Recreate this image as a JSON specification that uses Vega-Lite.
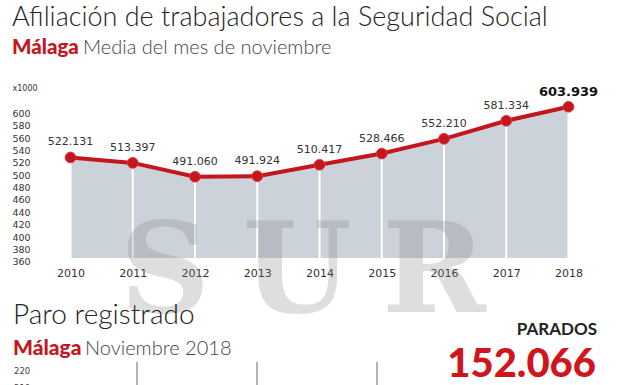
{
  "$schema": "https://vega.github.io/schema/vega-lite/v6.json",
  "width": 622,
  "height": 385,
  "autosize": {"type": "none"},
  "padding": 0,
  "background": "white",
  "config": {
    "view": {"stroke": null},
    "axis": {"labelOverlap": false, "grid": false, "domain": false, "ticks": false, "tickSize": 0, "labelPadding": 0, "labelFont": "DejaVu Sans", "labelColor": "#333", "labelFlush": false},
    "axisX": {"labelFontSize": 11, "labelBaseline": "middle"},
    "axisY": {"labelFontSize": 9.5, "labelAlign": "left", "labelOffset": 4}
  },
  "data": {"values": [
    {"year": 2010, "v": 522.131},
    {"year": 2011, "v": 513.397},
    {"year": 2012, "v": 491.060},
    {"year": 2013, "v": 491.924},
    {"year": 2014, "v": 510.417},
    {"year": 2015, "v": 528.466},
    {"year": 2016, "v": 552.210},
    {"year": 2017, "v": 581.334},
    {"year": 2018, "v": 603.939}
  ]},
  "layer": [
    {
      "mark": {"type": "area", "color": "#cbd2d9"},
      "encoding": {
        "x": {"field": "year", "type": "quantitative",
          "scale": {"domain": [2008.86747, 2018.85944], "nice": false, "zero": false},
          "axis": {"values": [2010, 2011, 2012, 2013, 2014, 2015, 2016, 2017, 2018], "tickCount": 30, "format": "d", "orient": "bottom", "offset": -112, "labelOverlap": false, "title": null}},
        "y": {"field": "v", "type": "quantitative",
          "scale": {"domain": [155.16, 776.13], "nice": false, "zero": false},
          "axis": {"values": [360, 380, 400, 420, 440, 460, 480, 500, 520, 540, 560, 580, 600], "tickCount": 30, "orient": "left", "offset": -12, "labelOverlap": false, "title": "x1000", "titleAngle": 0, "titleAlign": "left", "titleBaseline": "middle", "titleX": 0, "titleY": 88, "titleFontSize": 8, "titleFontWeight": "normal", "titleFont": "DejaVu Sans", "titleColor": "#333"}},
        "y2": {"datum": 360}
      }
    },
    {
      "mark": {"type": "rule", "color": "white", "strokeWidth": 2},
      "encoding": {
        "x": {"field": "year", "type": "quantitative"},
        "y": {"field": "v", "type": "quantitative"},
        "y2": {"datum": 360}
      }
    },
    {
      "data": {"values": [{}]},
      "mark": {"type": "text", "align": "center", "baseline": "alphabetic", "font": "DejaVu Serif", "fontWeight": "bold", "fontSize": 125, "color": "#7f7f7f", "opacity": 0.25},
      "encoding": {"x": {"datum": 2011.518, "type": "quantitative"}, "y": {"datum": 272.9, "type": "quantitative"}, "text": {"value": "S"}}
    },
    {
      "data": {"values": [{}]},
      "mark": {"type": "text", "align": "center", "baseline": "alphabetic", "font": "DejaVu Serif", "fontWeight": "bold", "fontSize": 125, "color": "#7f7f7f", "opacity": 0.25},
      "encoding": {"x": {"datum": 2013.6386, "type": "quantitative"}, "y": {"datum": 272.9, "type": "quantitative"}, "text": {"value": "U"}}
    },
    {
      "data": {"values": [{}]},
      "mark": {"type": "text", "align": "center", "baseline": "alphabetic", "font": "DejaVu Serif", "fontWeight": "bold", "fontSize": 125, "color": "#7f7f7f", "opacity": 0.25},
      "encoding": {"x": {"datum": 2015.8394, "type": "quantitative"}, "y": {"datum": 272.9, "type": "quantitative"}, "text": {"value": "R"}}
    },
    {
      "mark": {"type": "line", "color": "#c4161c", "strokeWidth": 4},
      "encoding": {
        "x": {"field": "year", "type": "quantitative"},
        "y": {"field": "v", "type": "quantitative"}
      }
    },
    {
      "mark": {"type": "point", "shape": "circle", "filled": true, "size": 115, "fill": "#c4161c", "stroke": "#e0353a", "strokeWidth": 1, "opacity": 1},
      "encoding": {
        "x": {"field": "year", "type": "quantitative"},
        "y": {"field": "v", "type": "quantitative"}
      }
    },
    {
      "transform": [{"filter": "datum.year < 2018"}],
      "mark": {"type": "text", "dy": -15, "font": "DejaVu Sans", "fontSize": 11, "color": "#333"},
      "encoding": {
        "x": {"field": "year", "type": "quantitative"},
        "y": {"field": "v", "type": "quantitative"},
        "text": {"field": "v", "type": "quantitative", "format": ".3f"}
      }
    },
    {
      "transform": [{"filter": "datum.year == 2018"}],
      "mark": {"type": "text", "dy": -15, "font": "DejaVu Sans", "fontWeight": "bold", "fontSize": 13, "color": "#111"},
      "encoding": {
        "x": {"field": "year", "type": "quantitative"},
        "y": {"field": "v", "type": "quantitative"},
        "text": {"field": "v", "type": "quantitative", "format": ".3f"}
      }
    },
    {
      "data": {"values": [{}]},
      "mark": {"type": "text", "align": "left", "baseline": "alphabetic", "font": "Lato", "fontWeight": 300, "fontSize": 27, "color": "#222"},
      "encoding": {"x": {"datum": 2009.0602, "type": "quantitative"}, "y": {"datum": 734.19, "type": "quantitative"}, "text": {"value": "Afiliación de trabajadores a la Seguridad Social"}}
    },
    {
      "data": {"values": [{}]},
      "mark": {"type": "text", "align": "left", "baseline": "alphabetic", "font": "Lato", "fontWeight": 900, "fontSize": 20.5, "color": "#c4161c"},
      "encoding": {"x": {"datum": 2009.0602, "type": "quantitative"}, "y": {"datum": 689.03, "type": "quantitative"}, "text": {"value": "Málaga"}}
    },
    {
      "data": {"values": [{}]},
      "mark": {"type": "text", "align": "left", "baseline": "alphabetic", "font": "Lato", "fontWeight": 300, "fontSize": 20, "color": "#444"},
      "encoding": {"x": {"datum": 2010.2008, "type": "quantitative"}, "y": {"datum": 689.03, "type": "quantitative"}, "text": {"value": "Media del mes de noviembre"}}
    },
    {
      "data": {"values": [{}]},
      "mark": {"type": "text", "align": "left", "baseline": "alphabetic", "font": "Lato", "fontWeight": 300, "fontSize": 28, "color": "#222"},
      "encoding": {"x": {"datum": 2009.0763, "type": "quantitative"}, "y": {"datum": 253.55, "type": "quantitative"}, "text": {"value": "Paro registrado"}}
    },
    {
      "data": {"values": [{}]},
      "mark": {"type": "text", "align": "left", "baseline": "alphabetic", "font": "Lato", "fontWeight": 900, "fontSize": 21, "color": "#c4161c"},
      "encoding": {"x": {"datum": 2009.0763, "type": "quantitative"}, "y": {"datum": 203.55, "type": "quantitative"}, "text": {"value": "Málaga"}}
    },
    {
      "data": {"values": [{}]},
      "mark": {"type": "text", "align": "left", "baseline": "alphabetic", "font": "Lato", "fontWeight": 300, "fontSize": 20, "color": "#444"},
      "encoding": {"x": {"datum": 2010.2329, "type": "quantitative"}, "y": {"datum": 203.55, "type": "quantitative"}, "text": {"value": "Noviembre 2018"}}
    },
    {
      "data": {"values": [{}]},
      "mark": {"type": "text", "align": "right", "baseline": "alphabetic", "font": "Lato", "fontWeight": 700, "fontSize": 17, "color": "#222"},
      "encoding": {"x": {"datum": 2018.4578, "type": "quantitative"}, "y": {"datum": 235.81, "type": "quantitative"}, "text": {"value": "PARADOS"}}
    },
    {
      "data": {"values": [{}]},
      "mark": {"type": "text", "align": "right", "baseline": "alphabetic", "font": "Lato", "fontWeight": 900, "fontSize": 40, "color": "#d0161c"},
      "encoding": {"x": {"datum": 2018.4418, "type": "quantitative"}, "y": {"datum": 168.06, "type": "quantitative"}, "text": {"value": "152.066"}}
    },
    {
      "data": {"values": [{}]},
      "mark": {"type": "text", "align": "left", "baseline": "middle", "font": "DejaVu Sans", "fontSize": 8.5, "color": "#444"},
      "encoding": {"x": {"datum": 2009.0924, "type": "quantitative"}, "y": {"datum": 177.74, "type": "quantitative"}, "text": {"value": "220"}}
    },
    {
      "data": {"values": [{}]},
      "mark": {"type": "text", "align": "left", "baseline": "middle", "font": "DejaVu Sans", "fontSize": 8.5, "color": "#444"},
      "encoding": {"x": {"datum": 2009.0924, "type": "quantitative"}, "y": {"datum": 150.3, "type": "quantitative"}, "text": {"value": "210"}}
    },
    {
      "data": {"values": [{}]},
      "mark": {"type": "rule", "color": "#999", "strokeWidth": 1.5},
      "encoding": {"x": {"datum": 2011.0683, "type": "quantitative"}, "y": {"datum": 192.26, "type": "quantitative"}, "y2": {"datum": 155.16}}
    },
    {
      "data": {"values": [{}]},
      "mark": {"type": "rule", "color": "#999", "strokeWidth": 1.5},
      "encoding": {"x": {"datum": 2012.996, "type": "quantitative"}, "y": {"datum": 192.26, "type": "quantitative"}, "y2": {"datum": 155.16}}
    },
    {
      "data": {"values": [{}]},
      "mark": {"type": "rule", "color": "#999", "strokeWidth": 1.5},
      "encoding": {"x": {"datum": 2014.9237, "type": "quantitative"}, "y": {"datum": 192.26, "type": "quantitative"}, "y2": {"datum": 155.16}}
    }
  ]
}
